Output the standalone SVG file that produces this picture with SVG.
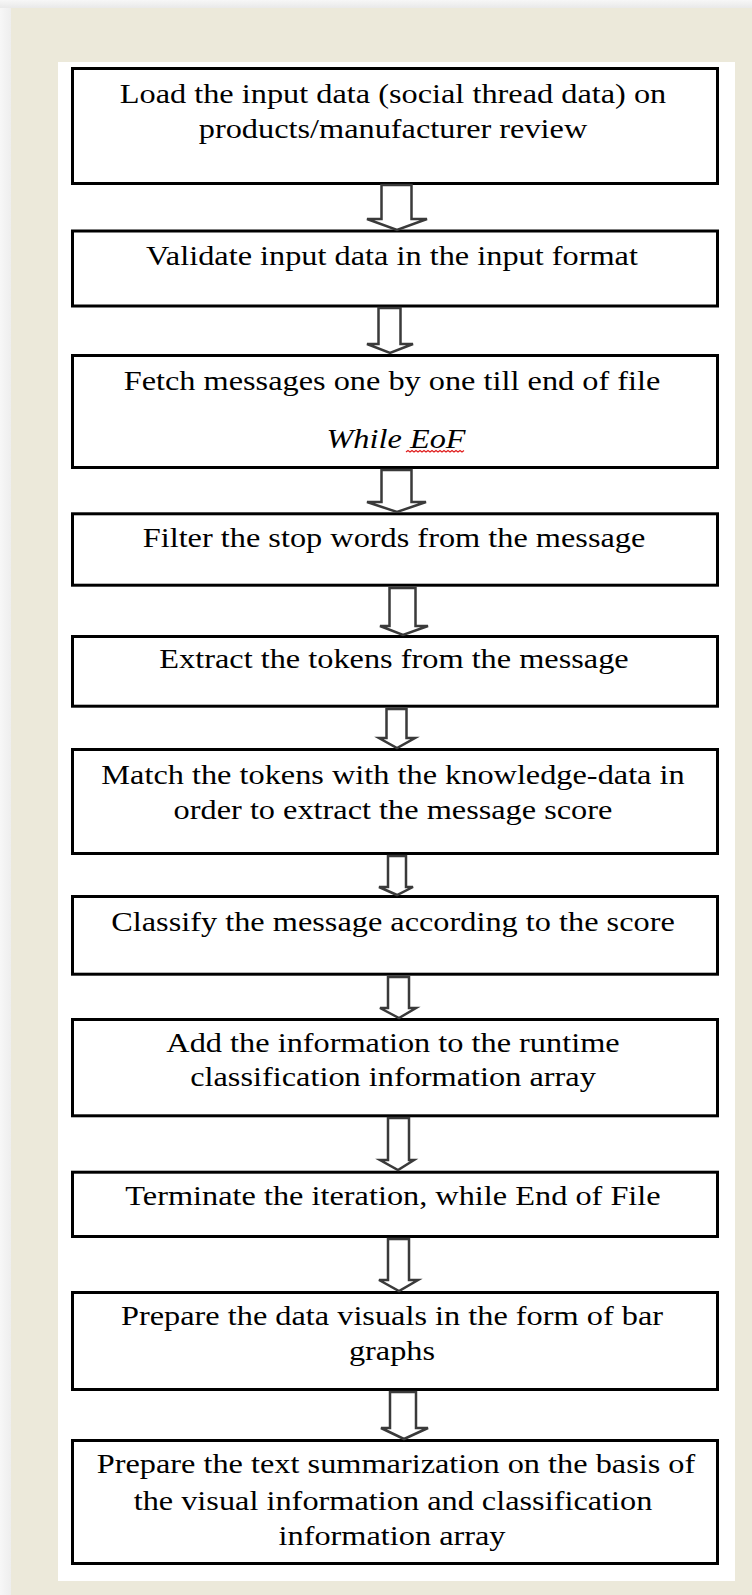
<svg xmlns="http://www.w3.org/2000/svg" width="752" height="1595" viewBox="0 0 752 1595">
  <defs>
    <linearGradient id="shadowL" x1="0" y1="0" x2="1" y2="0">
      <stop offset="0" stop-color="#f7f7f7"/>
      <stop offset="1" stop-color="#eeeeee"/>
    </linearGradient>
    <linearGradient id="shadowT" x1="0" y1="0" x2="0" y2="1">
      <stop offset="0" stop-color="#f7f7f7"/>
      <stop offset="1" stop-color="#e9e9e9"/>
    </linearGradient>
    <style>
      .box { fill: #ffffff; stroke: #000000; stroke-width: 3; }
      .lbl { font-family: "Liberation Serif", "Times New Roman", serif; font-size: 26.5px; fill: #000000; text-anchor: middle; }
      .it { font-style: italic; }
      .arrow { fill: #ffffff; stroke: #3a3a3a; stroke-width: 2.5; stroke-linejoin: miter; }
    </style>
  </defs>

  <!-- background -->
  <rect x="0" y="0" width="752" height="1595" fill="#ffffff"/>
  <rect x="0" y="0" width="11" height="1595" fill="url(#shadowL)"/>
  <rect x="0" y="0" width="752" height="8" fill="url(#shadowT)"/>
  <rect x="11" y="8" width="741" height="1587" fill="#ece9da"/>
  <rect x="58" y="62" width="677" height="1519" fill="#ffffff"/>

  <g id="node1">
    <rect class="box" x="72.5" y="68.5" width="645" height="115"/>
    <text class="lbl" transform="translate(393 103) scale(1.22 1)">Load the input data (social thread data) on</text>
    <text class="lbl" transform="translate(393 138) scale(1.22 1)">products/manufacturer review</text>
  </g>
  <g id="node2">
    <rect class="box" x="72.5" y="231" width="645" height="75"/>
    <text class="lbl" transform="translate(392 265) scale(1.22 1)">Validate input data in the input format</text>
  </g>
  <g id="node3">
    <rect class="box" x="72.5" y="355.5" width="645" height="112"/>
    <text class="lbl" transform="translate(392 390) scale(1.22 1)">Fetch messages one by one till end of file</text>
    <text class="lbl it" transform="translate(396 448) scale(1.22 1)">While EoF</text>
    <path d="M406 452 l2 -1.5 l2 1.5 l2 -1.5 l2 1.5 l2 -1.5 l2 1.5 l2 -1.5 l2 1.5 l2 -1.5 l2 1.5 l2 -1.5 l2 1.5 l2 -1.5 l2 1.5 l2 -1.5 l2 1.5 l2 -1.5 l2 1.5 l2 -1.5 l2 1.5 l2 -1.5 l2 1.5 l2 -1.5 l2 1.5 l2 -1.5 l2 1.5 l2 -1.5 l2 1.5 l2 -1.5" fill="none" stroke="#e02020" stroke-width="1.2"/>
  </g>
  <g id="node4">
    <rect class="box" x="72.5" y="513.8" width="645" height="71.4"/>
    <text class="lbl" transform="translate(394 547) scale(1.22 1)">Filter the stop words from the message</text>
  </g>
  <g id="node5">
    <rect class="box" x="72.5" y="636.5" width="645" height="69.7"/>
    <text class="lbl" transform="translate(394 668) scale(1.22 1)">Extract the tokens from the message</text>
  </g>
  <g id="node6">
    <rect class="box" x="72.5" y="749.5" width="645" height="104"/>
    <text class="lbl" transform="translate(393 784) scale(1.22 1)">Match the tokens with the knowledge-data in</text>
    <text class="lbl" transform="translate(393 819) scale(1.22 1)">order to extract the message score</text>
  </g>
  <g id="node7">
    <rect class="box" x="72.5" y="896.5" width="645" height="77.7"/>
    <text class="lbl" transform="translate(393 931) scale(1.22 1)">Classify the message according to the score</text>
  </g>
  <g id="node8">
    <rect class="box" x="72.5" y="1019.5" width="645" height="96.3"/>
    <text class="lbl" transform="translate(393 1051.5) scale(1.22 1)">Add the information to the runtime</text>
    <text class="lbl" transform="translate(393 1086) scale(1.22 1)">classification information array</text>
  </g>
  <g id="node9">
    <rect class="box" x="72.5" y="1172.2" width="645" height="64.3"/>
    <text class="lbl" transform="translate(393 1205) scale(1.22 1)">Terminate the iteration, while End of File</text>
  </g>
  <g id="node10">
    <rect class="box" x="72.5" y="1292.5" width="645" height="97"/>
    <text class="lbl" transform="translate(392 1325) scale(1.22 1)">Prepare the data visuals in the form of bar</text>
    <text class="lbl" transform="translate(392 1360) scale(1.22 1)">graphs</text>
  </g>
  <g id="node11">
    <rect class="box" x="72.5" y="1440.5" width="645" height="123"/>
    <text class="lbl" transform="translate(396 1473) scale(1.22 1)">Prepare the text summarization on the basis of</text>
    <text class="lbl" transform="translate(393 1510) scale(1.22 1)">the visual information and classification</text>
    <text class="lbl" transform="translate(392 1545) scale(1.22 1)">information array</text>
  </g>

  <g id="connectors">
    <polygon class="arrow" points="381.5,185 411.5,185 411.5,219 427,219 397,230 367,219 381.5,219"/>
    <polygon class="arrow" points="378.5,308 400.5,308 400.5,344 413,344 390,353 367,344 378.5,344"/>
    <polygon class="arrow" points="381.5,470 411.5,470 411.5,502 426,502 397,512 367,502 381.5,502"/>
    <polygon class="arrow" points="389.5,588 415.5,588 415.5,626 428,626 403,635 380,626 389.5,626"/>
    <polygon class="arrow" points="386.5,709 406.5,709 406.5,738 415,738 397,748 379,738 386.5,738"/>
    <polygon class="arrow" points="388,856 406,856 406,887 413,887 397,895 379,887 388,887"/>
    <polygon class="arrow" points="388,977 409,977 409,1008 416,1008 399,1018 380,1008 388,1008"/>
    <polygon class="arrow" points="388,1118 409,1118 409,1160 414,1160 398,1170 380,1160 388,1160"/>
    <polygon class="arrow" points="388,1239 409,1239 409,1280 418,1280 399,1291 379,1280 388,1280"/>
    <polygon class="arrow" points="390,1392 416,1392 416,1428 428,1428 404,1439 381,1428 390,1428"/>
  </g>
</svg>
